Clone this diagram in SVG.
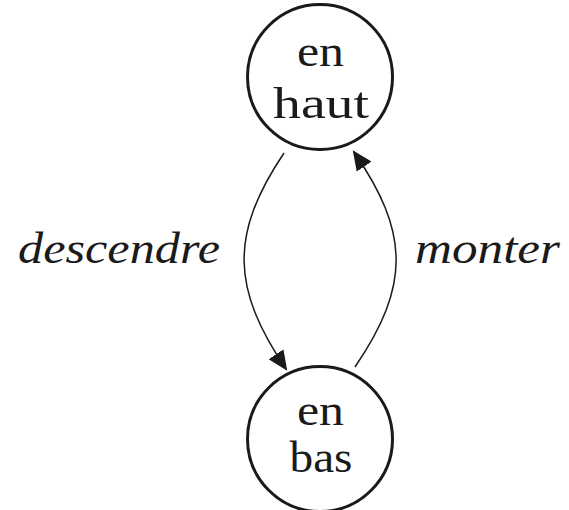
<svg xmlns="http://www.w3.org/2000/svg" width="569" height="510" viewBox="0 0 569 510">
  <style>
    .state { fill: #ffffff; stroke: #1a1a1a; stroke-width: 3; }
    .name { font-family: "Liberation Serif", "DejaVu Serif", serif; font-size: 44px; fill: #1a1a1a; text-anchor: middle; }
    .label { font-family: "Liberation Serif", "DejaVu Serif", serif; font-style: italic; font-size: 44px; fill: #1a1a1a; text-anchor: middle; }
    .edge { fill: none; stroke: #1a1a1a; stroke-width: 1.5; marker-end: url(#arrow); }
  </style>
  <defs>
    <marker id="arrow" markerUnits="userSpaceOnUse" markerWidth="20" markerHeight="18" viewBox="0 0 18 16" refX="16" refY="8" orient="auto">
      <path d="M0,0 L18,8 L0,16 Z" fill="#1a1a1a"/>
    </marker>
  </defs>

  <!-- transitions -->
  <g id="edges">
    <path class="edge" d="M284,153 C229,235 232,289 286,369"/>
    <path class="edge" d="M355,367 C411,285 409,232 354,152"/>
    <text class="label" x="119" y="263" textLength="202" lengthAdjust="spacingAndGlyphs">descendre</text>
    <text class="label" x="487.5" y="263" textLength="145" lengthAdjust="spacingAndGlyphs">monter</text>
  </g>

  <!-- states -->
  <g id="en-haut">
    <circle class="state" cx="320" cy="77" r="72.5"/>
    <text class="name" x="320.5" y="66" textLength="47" lengthAdjust="spacingAndGlyphs">en</text>
    <text class="name" x="321" y="118" textLength="96" lengthAdjust="spacingAndGlyphs">haut</text>
  </g>
  <g id="en-bas">
    <circle class="state" cx="320" cy="439" r="72.5"/>
    <text class="name" x="320.5" y="425" textLength="47" lengthAdjust="spacingAndGlyphs">en</text>
    <text class="name" x="321" y="472" textLength="63" lengthAdjust="spacingAndGlyphs">bas</text>
  </g>
</svg>
